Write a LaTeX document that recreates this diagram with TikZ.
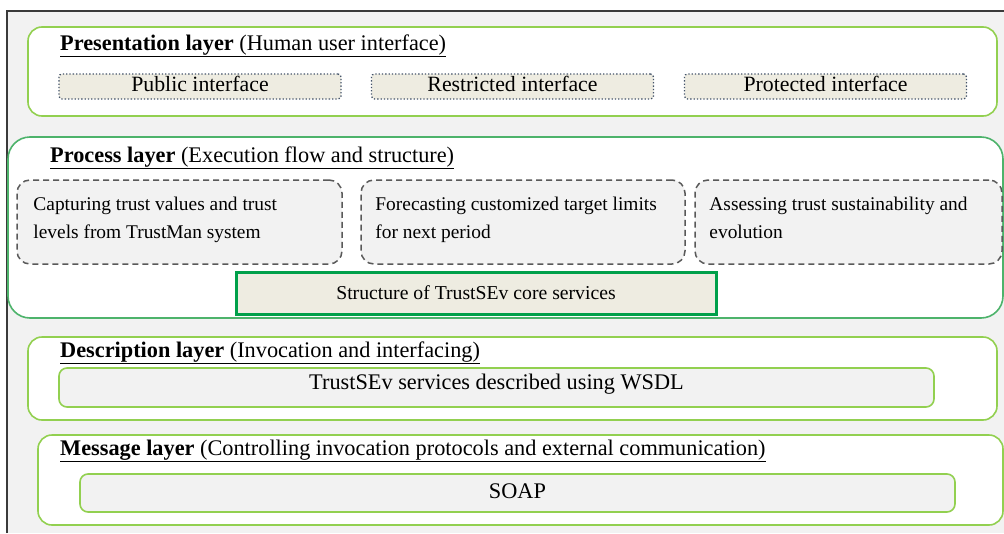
\documentclass[tikz,border=0pt]{standalone}
\usepackage{fontspec}
\setmainfont{Liberation Serif}
\usetikzlibrary{positioning}

\definecolor{leaf}{HTML}{92D050}
\definecolor{moss}{HTML}{4DB36B}
\definecolor{grass}{HTML}{00A04A}
\definecolor{paper}{HTML}{EEECE1}
\definecolor{panel}{HTML}{F2F2F2}
\definecolor{slate}{HTML}{44546A}
\definecolor{frame}{HTML}{3A3A3A}

\begin{document}
\begin{tikzpicture}[
    x=1pt, y=-1pt,
    layer/.style={draw=leaf, line width=1.6pt, fill=white,
      rounded corners=14pt, inner sep=0pt},
    title/.style={anchor=west, inner sep=0pt,
      font=\fontsize{22.3}{26}\selectfont},
    iface/.style={draw=slate, dotted, line width=1.3pt, fill=paper,
      rounded corners=3pt, minimum width=282pt, minimum height=25pt,
      inner sep=0pt},
    label/.style={inner sep=0pt, font=\fontsize{21.8}{26}\selectfont},
    task/.style={draw=black!65, dash pattern=on 6pt off 4pt,
      line width=1.5pt, fill=panel, rounded corners=13pt,
      minimum height=84pt, inner sep=0pt},
    tasktext/.style={anchor=north west, inner sep=0pt, align=left,
      font=\fontsize{19.4}{28}\selectfont},
    plain/.style={draw=leaf, line width=1.6pt, fill=panel,
      rounded corners=8pt, minimum width=875pt, inner sep=0pt}]

    \useasboundingbox (0,0) rectangle (1004,533);

    % frame
    \fill[panel] (7,11) rectangle (1004,533);
    \draw[frame, line width=2pt] (7,533) -- (7,11) -- (1004,11);

    % presentation layer
    \node[layer, minimum width=969pt, minimum height=89pt] (pres) at (512.5,71.5) {};
    \node[title] (prestitle) at (60,46)
      {\underline{\textbf{Presentation layer} (Human user interface)}};
    \node[iface] (public) at (200,86.5) {};
    \node[iface] (restricted) at (512.5,86.5) {};
    \node[iface] (protected) at (825.5,86.5) {};
    \node[label] at ([yshift=2.5pt]public.center) {Public interface};
    \node[label] at ([yshift=2.5pt]restricted.center) {Restricted interface};
    \node[label] at ([yshift=2.5pt]protected.center) {Protected interface};

    % process layer
    \node[layer, draw=moss, rounded corners=22pt,
      minimum width=995pt, minimum height=181pt] (proc) at (505.5,227.5) {};
    \node[title] (proctitle) at (50,158)
      {\underline{\textbf{Process layer} (Execution flow and structure)}};
    \node[task, minimum width=325pt] (capture) at (179.5,222) {};
    \node[task, minimum width=324pt] (forecast) at (523,222) {};
    \node[task, minimum width=307pt] (assess) at (848.5,222) {};
    \node[tasktext] at ([xshift=17pt,yshift=-18pt]capture.north west)
      {Capturing trust values and trust\\levels from TrustMan system};
    \node[tasktext] at ([xshift=15pt,yshift=-18pt]forecast.north west)
      {Forecasting customized target limits\\for next period};
    \node[tasktext] at ([xshift=15pt,yshift=-18pt]assess.north west)
      {Assessing trust sustainability and\\evolution};
    \node[draw=grass, line width=3pt, fill=paper, minimum width=480pt,
      minimum height=42pt, inner sep=0pt,
      font=\fontsize{19.7}{24}\selectfont] (core) at (476,293)
      {Structure of TrustSEv core services};

    % description layer
    \node[layer, minimum width=969pt, minimum height=83pt] (desc) at (512.5,378.5) {};
    \node[title] (desctitle) at (60,353)
      {\underline{\textbf{Description layer} (Invocation and interfacing)}};
    \node[plain, minimum height=39pt] (wsdl) at (496.5,387.5) {};
    \node[label, font=\fontsize{22.3}{26}\selectfont] (wsdltext) at (496.5,384)
      {TrustSEv services described using WSDL};

    % message layer
    \node[layer, minimum width=965pt, minimum height=90pt] (msg) at (520.5,480) {};
    \node[title] (msgtitle) at (60,451)
      {\underline{\textbf{Message layer} (Controlling invocation protocols and external communication)}};
    \node[plain, minimum height=38pt] (soap) at (517.5,493) {};
    \node[label, font=\fontsize{22.3}{26}\selectfont] (soaptext) at (517.5,491) {SOAP};
  \end{tikzpicture}
\end{document}
